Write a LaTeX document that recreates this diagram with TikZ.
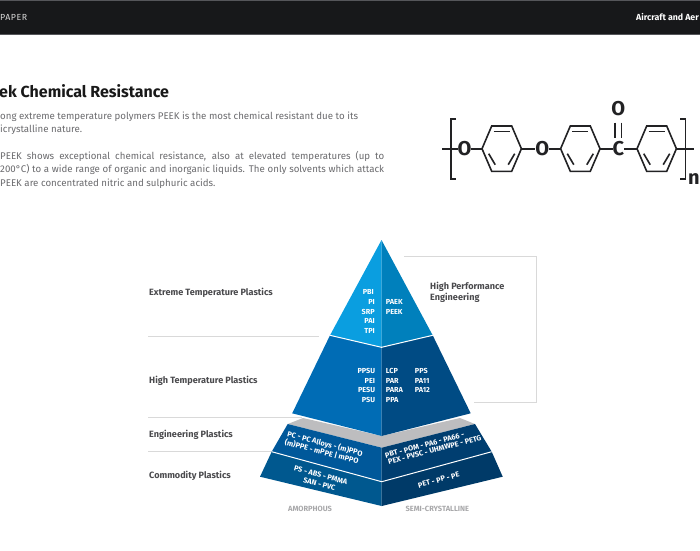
\documentclass[tikz,border=0pt]{standalone}
\usepackage{fontspec}
\setmainfont{Fira Sans}
\definecolor{barblack}{HTML}{17181A}
\definecolor{barline}{HTML}{55565A}
\definecolor{guide}{HTML}{D9D9D9}
\definecolor{labelgrey}{HTML}{4A4A4D}
\definecolor{bodygrey}{HTML}{6A6A6D}
\definecolor{footgrey}{HTML}{A8A8AA}
\definecolor{ink}{HTML}{222224}
\definecolor{topL}{HTML}{0A9EE0}
\definecolor{topR}{HTML}{0080BC}
\definecolor{midL}{HTML}{006CB5}
\definecolor{midR}{HTML}{004B84}
\definecolor{engL}{HTML}{00589A}
\definecolor{engR}{HTML}{003E70}
\definecolor{comL}{HTML}{00588F}
\definecolor{comR}{HTML}{003A68}
\definecolor{band}{HTML}{BDBDBF}
\tikzset{
  x=1pt,y=-1pt,
  guideline/.style={draw=guide,line width=0.9pt},
  tierlabel/.style={anchor=west,inner sep=0,font=\fontsize{9.1}{10}\selectfont\bfseries,text=labelgrey},
  plabelR/.style={anchor=east,inner sep=0,font=\fontsize{7.3}{8}\selectfont\bfseries,text=white},
  plabelL/.style={anchor=west,inner sep=0,font=\fontsize{7.3}{8}\selectfont\bfseries,text=white},
  slanted/.style={inner sep=0,font=\fontsize{7.4}{8}\selectfont\bfseries,text=white,rotate=#1},
  foot/.style={inner sep=0,font=\fontsize{7.5}{8}\selectfont\bfseries,text=footgrey},
  body/.style={anchor=base west,inner sep=0,font=\fontsize{9.7}{12}\selectfont,text=bodygrey},
  tierline/.style={draw=white,line width=1pt},
  bond/.style={draw=ink,line width=1.6pt,line join=miter},
  atom/.style={inner sep=0,font=\fontsize{20}{24}\selectfont\bfseries,text=ink,fill=white},
}
\begin{document}
\begin{tikzpicture}
\useasboundingbox (0,0) rectangle (700,550);
% header
\fill[barblack] (0,0) rectangle (700,34.5);
\fill[barline] (0,0) rectangle (700,0.8);
\fill[barline] (0,33.8) rectangle (700,34.6);
\node[anchor=west,inner sep=0,font=\fontsize{8.8}{10}\selectfont\addfontfeature{LetterSpace=6},text=white!85!black] (hl) at (0,17.5) {PAPER};
\node[anchor=west,inner sep=0,font=\fontsize{8.8}{10}\selectfont\bfseries,text=white] (hr) at (636,17.5) {Aircraft and Aer};
% text
\node[anchor=west,inner sep=0,font=\fontsize{16}{18}\selectfont\bfseries,text=black!90] (title) at (-1,91) {ek Chemical Resistance};
\node[body] (b1) at (0,119.3) {ong extreme temperature polymers PEEK is the most chemical resistant due to its};
\node[body] (b2) at (0,132.6) {icrystalline nature.};
\node[body] (b3) at (0,159.3) {\makebox[384pt][s]{PEEK shows exceptional chemical resistance, also at elevated temperatures (up to}};
\node[body] (b4) at (0,172.6) {\makebox[384pt][s]{200°C) to a wide range of organic and inorganic liquids. The only solvents which attack}};
\node[body] (b5) at (0,186) {PEEK are concentrated nitric and sulphuric acids.};
% molecule
\foreach \nm/\cx in {A/501.7,B/580.3,C/656.7}{
  \coordinate (\nm l) at (\cx-19.7,148.7);
  \coordinate (\nm r) at (\cx+19.7,148.7);
  \coordinate (\nm tl) at (\cx-10,126);
  \coordinate (\nm tr) at (\cx+10,126);
  \coordinate (\nm bl) at (\cx-10,171.3);
  \coordinate (\nm br) at (\cx+10,171.3);
  \draw[bond] (\nm l)--(\nm tl)--(\nm tr)--(\nm r)--(\nm br)--(\nm bl)--cycle;
  \draw[bond] (\cx-8,131.5)--(\cx+8,131.5);
  \draw[bond] (\cx-13,148.7+5)--(\cx-6.5,148.7+16);
  \draw[bond] (\cx+13,148.7+5)--(\cx+6.5,148.7+16);
}
\coordinate (dl) at (442.3,148.7);
\coordinate (dr) at (694,148.7);
\draw[bond] (dl)--(464,148.7)--(Al);
\draw[bond] (Ar)--(Bl);
\draw[bond] (Br)--(Cl);
\draw[bond] (Cr)--(dr);
\draw[bond] (615.2,122.7)--(615.2,138.3);
\draw[bond] (621.6,122.7)--(621.6,138.3);
\draw[bond] (456,118.7)--(450.7,118.7)--(450.7,179)--(456,179);
\draw[bond] (680,118.7)--(685.3,118.7)--(685.3,179)--(680,179);
\node[atom] (o1) at (464.5,148.5) {O};
\node[atom] (o2) at (542.3,148.5) {O};
\node[atom] (cc) at (618.3,148.5) {C};
\node[atom] (o3) at (618.3,108.3) {O};
\node[inner sep=0,font=\fontsize{20}{24}\selectfont\bfseries,text=ink] (nn) at (694,179.5) {n};
% guides
\draw[guideline] (148,336.5)--(319,336.5);
\draw[guideline] (148,417.5)--(302,417.5);
\draw[guideline] (148,451.5)--(272,451.5);
\draw[guideline] (404,256.9)--(536.5,256.9)--(536.5,402.5)--(474,402.5);
% pyramid
\fill[band] (287.7,424)--(303,418)--(381.7,436)--(460,418)--(475,424)--(381.7,447.7)--cycle;
\fill[comL] (271.7,451.7)--(381.7,481.7)--(381.7,506)--(260,476.7)--cycle;
\fill[comR] (491.7,451.7)--(381.7,481.7)--(381.7,506)--(502.7,476.7)--cycle;
\fill[engL] (287.7,424)--(381.7,447.7)--(381.7,481.7)--(271.7,451.7)--cycle;
\fill[engR] (475,424)--(381.7,447.7)--(381.7,481.7)--(491.7,451.7)--cycle;
\fill[midL] (330,335.3)--(381.5,347.3)--(381.7,436)--(292.2,413.3)--cycle;
\fill[midR] (432.7,335.3)--(381.5,347.3)--(381.7,436)--(470.7,413.3)--cycle;
\fill[topL] (381.5,240)--(381.5,347.3)--(330,335.3)--cycle;
\fill[topR] (381.5,240)--(381.5,347.3)--(432.7,335.3)--cycle;
\draw[tierline] (330,335.3)--(381.5,347.3)--(432.7,335.3);
\draw[tierline] (271.7,451.7)--(381.7,481.7)--(491.7,451.7);
% tier labels
\node[tierlabel] (t1) at (149,293) {Extreme Temperature Plastics};
\node[tierlabel] (t2) at (149,380.5) {High Temperature Plastics};
\node[tierlabel] (t3) at (149,435) {Engineering Plastics};
\node[tierlabel] (t4) at (149,475.5) {Commodity Plastics};
\node[tierlabel] (t5) at (430,287) {High Performance};
\node[tierlabel] (t6) at (430,297.7) {Engineering};
% polymer labels
\node[plabelR] (p1) at (374,292.3) {PBI};
\node[plabelR] (p2) at (375,302) {PI};
\node[plabelR] (p3) at (375,311.7) {SRP};
\node[plabelR] (p4) at (375,321.3) {PAI};
\node[plabelR] (p5) at (375,331) {TPI};
\node[plabelL] (p6) at (385.7,302) {PAEK};
\node[plabelL] (p7) at (385.7,311.7) {PEEK};
\node[plabelR] (m1) at (375.3,371) {PPSU};
\node[plabelR] (m2) at (375.3,380.7) {PEI};
\node[plabelR] (m3) at (375.3,390.3) {PESU};
\node[plabelR] (m4) at (375.3,400) {PSU};
\node[plabelL] (m5) at (385.7,371) {LCP};
\node[plabelL] (m6) at (385.7,380.7) {PAR};
\node[plabelL] (m7) at (385.7,390.3) {PARA};
\node[plabelL] (m8) at (385.7,400) {PPA};
\node[plabelL] (m9) at (414.7,371) {PPS};
\node[plabelL] (m10) at (414.7,380.7) {PA11};
\node[plabelL] (m11) at (414.7,390.3) {PA12};
% slanted labels
\node[slanted=-15] (s1) at (325,444) {PC - PC Alloys - (m)PPO};
\node[slanted=-15] (s2) at (321.7,451.7) {(m)PPE - mPPE | mPPO};
\node[slanted=-15] (s3) at (320.7,475.3) {PS - ABS - PMMA};
\node[slanted=-15] (s4) at (319.3,484) {SAN - PVC};
\node[slanted=15] (s5) at (424.7,445) {PBT - POM - PA6 - PA66 -};
\node[slanted=15] (s6) at (434.7,450) {PEX - PVSC - UHMWPE - PETG};
\node[slanted=15] (s7) at (438.7,480) {PET - PP - PE};
\node[foot] (f1) at (310,509.3) {AMORPHOUS};
\node[foot] (f2) at (437.3,509.3) {SEMI-CRYSTALLINE};
\end{tikzpicture}
\end{document}
